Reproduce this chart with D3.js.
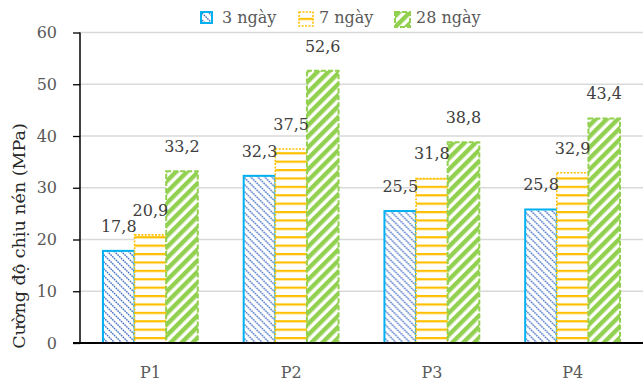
<!DOCTYPE html>
<html>
<head>
<meta charset="utf-8">
<script src="https://cdn.jsdelivr.net/npm/d3@7"></script>
<style>
  html, body { margin: 0; padding: 0; background: #fff; }
  svg { display: block; font-family: "DejaVu Serif", serif; }
</style>
</head>
<body>
<svg id="chart" width="643" height="386"></svg>
<script>
// Compressive strength by mix and curing age
const categories = ["P1", "P2", "P3", "P4"];
const seriesNames = ["3 ngày", "7 ngày", "28 ngày"];
const day3 = [17.8, 32.3, 25.5, 25.8];
const day7 = [20.9, 37.5, 31.8, 32.9];
const day28 = [33.2, 52.6, 38.8, 43.4];
const yTicks = [0, 10, 20, 30, 40, 50, 60];
const yTitle = "Cường độ chịu nén (MPa)";

const seriesValues = [day3, day7, day28];

const svg = d3.select("#chart");
const margin = { left: 80, right: 643, top: 32.5, bottom: 343 };

const x0 = d3.scaleBand().domain(categories).range([margin.left, margin.right]).padding(0);
const bw = x0.bandwidth();
const x1 = d3.scaleBand().domain(seriesNames).range([bw * 0.163, bw * 0.837]).padding(0);
const y = d3.scaleLinear().domain([0, 60]).range([margin.bottom, margin.top]);

// Fill patterns
const defs = svg.append("defs");

const pBlue = defs.append("pattern").attr("id", "pat-blue")
  .attr("patternUnits", "userSpaceOnUse").attr("width", 7).attr("height", 7);
pBlue.append("rect").attr("width", 7).attr("height", 7).attr("fill", "#fff");
pBlue.append("path").attr("d", "M-1,-1 L8,8 M-1,6 L1,8 M6,-1 L8,1")
  .attr("stroke", "#4472C4").attr("stroke-width", 1.4).attr("stroke-dasharray", "1.6,0.9");

const pYellow = defs.append("pattern").attr("id", "pat-yellow")
  .attr("patternUnits", "userSpaceOnUse").attr("width", 10).attr("height", 8.4)
  .attr("y", 1);
pYellow.append("rect").attr("width", 10).attr("height", 8.4).attr("fill", "#fff");
pYellow.append("rect").attr("y", 0).attr("width", 10).attr("height", 2.2).attr("fill", "#FFC000");

const pGreen = defs.append("pattern").attr("id", "pat-green")
  .attr("patternUnits", "userSpaceOnUse").attr("width", 7.8).attr("height", 7.8)
  .attr("patternTransform", "rotate(45)");
pGreen.append("rect").attr("width", 7.8).attr("height", 7.8).attr("fill", "#fff");
pGreen.append("rect").attr("width", 4.4).attr("height", 7.8).attr("fill", "#92D050");

const styles = [
  { fill: "url(#pat-blue)", stroke: "#00B0F0", width: 2, dash: null },
  { fill: "url(#pat-yellow)", stroke: "#FFC000", width: 1.6, dash: "2,1.4" },
  { fill: "url(#pat-green)", stroke: "#92D050", width: 2, dash: "5,2" }
];

// Gridlines
svg.append("g").selectAll("line").data(yTicks.filter(d => d > 0)).join("line")
  .attr("x1", margin.left).attr("x2", margin.right)
  .attr("y1", d => y(d)).attr("y2", d => y(d))
  .attr("stroke", "#D9D9D9").attr("stroke-width", 1.3);

// Bars
const groups = svg.append("g").selectAll("g").data(categories).join("g")
  .attr("transform", d => `translate(${x0(d)},0)`);

groups.each(function(cat, ci) {
  const g = d3.select(this);
  seriesNames.forEach((s, si) => {
    const v = seriesValues[si][ci];
    const st = styles[si];
    g.append("rect")
      .attr("x", x1(s)).attr("y", y(v))
      .attr("width", x1.bandwidth()).attr("height", y(0) - y(v))
      .attr("fill", st.fill).attr("stroke", st.stroke)
      .attr("stroke-width", st.width)
      .attr("stroke-dasharray", st.dash);
  });
});

// Value labels
groups.each(function(cat, ci) {
  const g = d3.select(this);
  seriesNames.forEach((s, si) => {
    const v = seriesValues[si][ci];
    g.append("text")
      .attr("x", x1(s) + x1.bandwidth() / 2)
      .attr("y", y(v) - 19)
      .attr("text-anchor", "middle")
      .attr("font-size", 16)
      .attr("fill", "#404040")
      .text(v.toFixed(1).replace(".", ","));
  });
});

// Y axis
const yAxis = svg.append("g").attr("transform", `translate(${margin.left},0)`)
  .call(d3.axisLeft(y).tickValues(yTicks).tickSize(7).tickPadding(16).tickFormat(d3.format("d")));
yAxis.select(".domain").attr("stroke", "#000").attr("stroke-width", 1.5)
  .attr("d", `M0,${margin.top}V${margin.bottom}`);
yAxis.selectAll(".tick line").attr("stroke", "#000").attr("stroke-width", 1.3);
yAxis.selectAll(".tick text").attr("font-size", 16).attr("fill", "#595959")
  .attr("font-family", "DejaVu Serif, serif");

// X axis
const xAxis = svg.append("g").attr("transform", `translate(0,${margin.bottom})`)
  .call(d3.axisBottom(x0).tickSize(0).tickPadding(24));
xAxis.select(".domain").attr("stroke", "#000").attr("stroke-width", 2)
  .attr("d", `M${margin.left - 7},0H${margin.right}`);
xAxis.selectAll(".tick text").attr("font-size", 16).attr("fill", "#595959")
  .attr("font-family", "DejaVu Serif, serif");

// Y axis title
svg.append("text")
  .attr("transform", "translate(25,236) rotate(-90)")
  .attr("text-anchor", "middle")
  .attr("font-size", 17.5)
  .attr("fill", "#262626")
  .text(yTitle);

// Legend
const legendItems = [
  { x: 201, y: 12, size: 11, text: 222 },
  { x: 299, y: 12, size: 14, text: 319 },
  { x: 395, y: 12, size: 15, text: 416 }
];
const legend = svg.append("g");
seriesNames.forEach((s, i) => {
  const it = legendItems[i];
  const st = styles[i];
  legend.append("rect")
    .attr("x", it.x).attr("y", it.y).attr("width", it.size).attr("height", it.size)
    .attr("fill", st.fill).attr("stroke", st.stroke)
    .attr("stroke-width", st.width).attr("stroke-dasharray", st.dash);
  legend.append("text")
    .attr("x", it.text).attr("y", 23)
    .attr("font-size", 16).attr("fill", "#595959")
    .text(s);
});
</script>
</body>
</html>
